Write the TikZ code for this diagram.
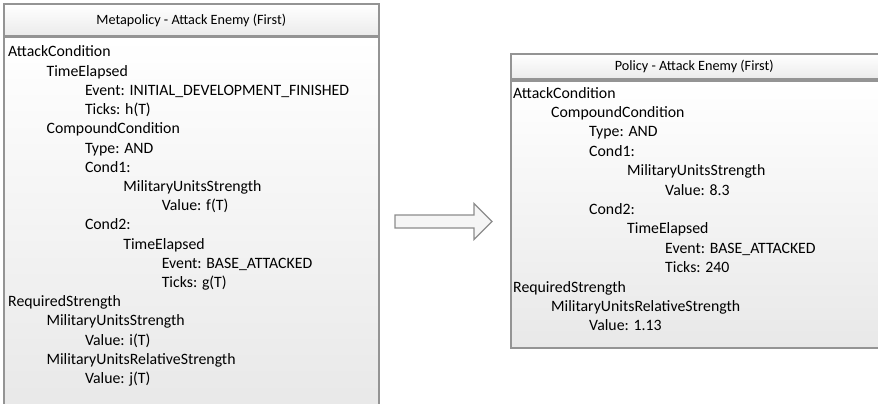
\documentclass[tikz,border=0pt]{standalone}
\usepackage{fontspec}
\setmainfont{Carlito}
\usetikzlibrary{calc}
\tikzstyle{panel}=[rectangle,draw=black!42,line width=1.5pt,top color=white,bottom color=black!9,inner sep=0pt]
\tikzstyle{head}=[rectangle,draw=black!42,line width=1.5pt,top color=white,bottom color=black!8,inner sep=0pt,font=\fontsize{14.2}{16}\selectfont]
\tikzstyle{entry}=[anchor=base west,inner sep=0pt,text=black,font=\fontsize{15.8}{19}\selectfont]
\tikzstyle{bigarrow}=[draw=black!45,line width=1.2pt,fill=black!4,line join=miter]

\begin{document}
\begin{tikzpicture}[x=1pt,y=-1pt]
\useasboundingbox (0,0) rectangle (878,404);
\clip (0,0) rectangle (878,404);

% metapolicy box
\node[panel,minimum width=375pt,minimum height=373pt,anchor=north west] (mbody) at (3,37) {};
\node[head,minimum width=375pt,minimum height=32pt,anchor=south west] (mhead) at (mbody.north west) {Metapolicy - Attack Enemy (First)};
\foreach \lvl/\txt [count=\i from 0] in {0/AttackCondition,1/TimeElapsed,2/Event: INITIAL\_DEVELOPMENT\_FINISHED,2/Ticks: h(T),
    1/CompoundCondition,2/Type: AND,2/Cond1:,3/MilitaryUnitsStrength,4/Value: f(T),2/Cond2:,3/TimeElapsed,
    4/Event: BASE\_ATTACKED,4/Ticks: g(T),0/RequiredStrength,1/MilitaryUnitsStrength,2/Value: i(T),
    1/MilitaryUnitsRelativeStrength,2/Value: j(T)}{
  \node[entry] (m\i) at (8+38.4*\lvl,57+19.2*\i) {\txt};
}

% policy box
\node[panel,minimum width=372pt,minimum height=267pt,anchor=north west] (pbody) at (510,80) {};
\node[head,minimum width=372pt,minimum height=25pt,anchor=south west] (phead) at (pbody.north west) {\hspace*{-5pt}Policy - Attack Enemy (First)};
\foreach \lvl/\txt [count=\i from 0] in {0/AttackCondition,1/CompoundCondition,2/Type: AND,2/Cond1:,
    3/MilitaryUnitsStrength,4/Value: 8.3,2/Cond2:,3/TimeElapsed,4/Event: BASE\_ATTACKED,4/Ticks: 240,
    0/RequiredStrength,1/MilitaryUnitsRelativeStrength,2/Value: 1.13}{
  \node[entry] (p\i) at (513+38*\lvl,98+19.4*\i) {\txt};
}

% block arrow
\coordinate (atail) at (395,221.5);
\coordinate (atip) at (492,221.5);
\draw[bigarrow] ($(atail)+(0,-6.5)$) -- ($(atip)+(-18,-6.5)$) -- ($(atip)+(-18,-18)$) -- (atip)
  -- ($(atip)+(-18,18)$) -- ($(atip)+(-18,6.5)$) -- ($(atail)+(0,6.5)$) -- cycle;
\end{tikzpicture}
\end{document}
